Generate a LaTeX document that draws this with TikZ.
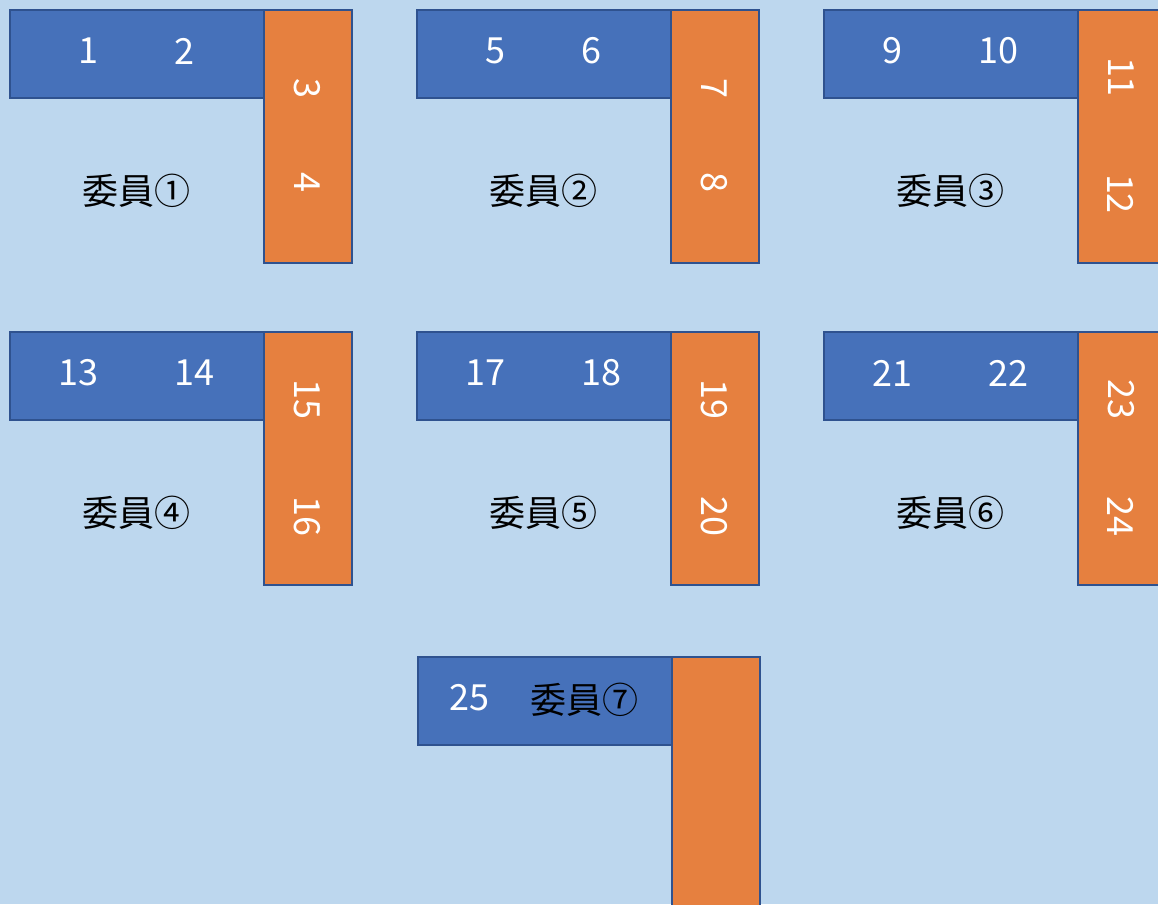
\documentclass[tikz,border=0pt]{standalone}
\usepackage{fontspec}
\setmainfont{Noto Sans CJK JP}
\definecolor{bgcol}{HTML}{BDD7EE}
\definecolor{bluefill}{HTML}{4671BA}
\definecolor{orangefill}{HTML}{E6803F}
\definecolor{edgecol}{HTML}{2F528F}
\tikzset{
  bluebox/.style={draw=edgecol, fill=bluefill, line width=2.2pt, inner sep=0pt, anchor=north west, minimum width=254pt, minimum height=88pt},
  orangebox/.style={draw=edgecol, fill=orangefill, line width=2.2pt, inner sep=0pt, anchor=north west, minimum width=88pt, minimum height=253pt},
  numtext/.style={text=white, font=\fontsize{36pt}{40pt}\selectfont, inner sep=0pt},
  vnumtext/.style={numtext, rotate=-90},
  labeltext/.style={text=black, font=\fontsize{36pt}{40pt}\selectfont, inner sep=0pt}
}
\begin{document}
\begin{tikzpicture}[x=1pt,y=-1pt]
\useasboundingbox (0,0) rectangle (1158,904);
\fill[bgcol] (0,0) rectangle (1158,904);
\clip (0,0) rectangle (1158,904);
\foreach \gx/\gy/\na/\nb/\lab/\ax/\bx/\id in {
  9/9/1/2/①/79/175/a,
  416/9/5/6/②/79/175/b,
  823/9/9/10/③/69/175/c,
  9/331/13/14/④/69/185/d,
  416/331/17/18/⑤/69/185/e,
  823/331/21/22/⑥/69/185/f}{
  \node[bluebox] (blue\id) at (\gx,\gy) {};
  \node[orangebox] (orange\id) at (\gx+254,\gy) {};
  \node[numtext] (na\id) at (\gx+\ax,\gy+42) {\na};
  \node[numtext] (nb\id) at (\gx+\bx,\gy+42) {\nb};
  \node[labeltext] (lab\id) at (\gx+127,\gy+182) {委員\lab};
}
% vertical numbers
\node[vnumtext] (nc1) at (307,88) {3};
\node[vnumtext] (nd1) at (307,182) {4};
\node[vnumtext] (nc2) at (714,88) {7};
\node[vnumtext] (nd2) at (714,182) {8};
\node[vnumtext] (nc3) at (1121,77) {11};
\node[vnumtext] (nd3) at (1121,194) {12};
\node[vnumtext] (nc4) at (307,399) {15};
\node[vnumtext] (nd4) at (307,516) {16};
\node[vnumtext] (nc5) at (714,399) {19};
\node[vnumtext] (nd5) at (714,516) {20};
\node[vnumtext] (nc6) at (1121,399) {23};
\node[vnumtext] (nd6) at (1121,516) {24};
% row 3
\node[bluebox] (blueg) at (417,656) {};
\node[orangebox, minimum height=300pt] (orangeg) at (671,656) {};
\node[numtext] (nag) at (469,698) {25};
\node[labeltext] (labg) at (584,700) {委員⑦};
\end{tikzpicture}
\end{document}
